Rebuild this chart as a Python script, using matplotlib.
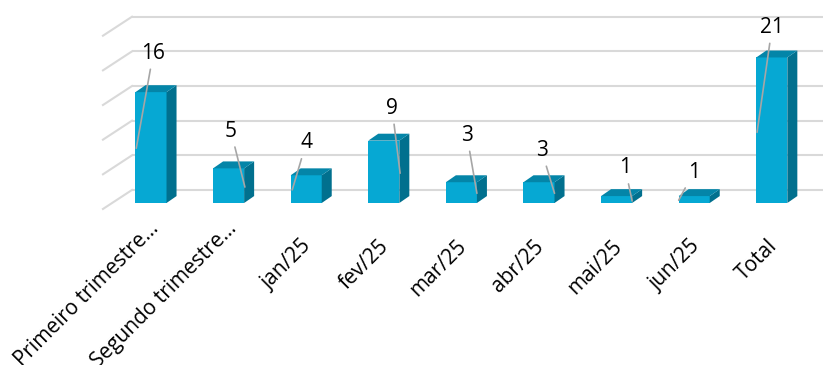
import matplotlib
matplotlib.use("Agg")
import matplotlib.pyplot as plt
from matplotlib.patches import Polygon

# dados do gráfico
categorias = ["Primeiro trimestre…", "Segundo trimestre…", "jan/25", "fev/25",
              "mar/25", "abr/25", "mai/25", "jun/25", "Total"]
valores = [16, 5, 4, 9, 3, 3, 1, 1, 21]
grade = [0, 5, 10, 15, 20, 25]

# posição manual dos rótulos (pixels) e do ponto onde a linha guia toca a barra
rot_dx = [17, -14, 14, -8, -10, -13, -7, 15, 15]
rot_dy = [95, 56, 47, 65, 58, 43, 33, 28, 105]
guia_x = [-0.19, 0.21, -0.18, 0.21, 0.2, 0.2, 0.2, -0.2, -0.19]
guia_v = [7.9, 2.3, 1.9, 4.3, 1.4, 1.4, 0.3, 0.4, 10.2]

# cores estilo Excel 3D
cor_frente = "#06a8d3"
cor_topo = "#0485a8"
cor_lado = "#01708e"
cor_grade = "#d9d9d9"
cor_guia = "#a6a6a6"

plt.rcParams["font.family"] = ["Open Sans", "DejaVu Sans"]

fig = plt.figure(figsize=(8.23, 3.65), dpi=100)
ax = fig.add_axes([0, 0, 1, 1])
ax.set_xlim(-151 / 77.6, (823 - 151) / 77.6)
ax.set_ylim((203 - 365) / 6.93, 203 / 6.93)
ax.axis("off")

largura = 0.4
prof_x, prof_y = 0.129, 1.0       # profundidade da barra
fundo_x, fundo_y = 0.245, 1.88    # deslocamento da parede do fundo
piso_x, piso_y = 0.374, 2.74      # linhas diagonais da parede lateral

# grade na parede do fundo + diagonais
x_fundo = -fundo_x
for g in grade:
    ax.plot([x_fundo, ax.get_xlim()[1]], [g + fundo_y, g + fundo_y],
            color=cor_grade, lw=1.5, zorder=1, solid_capstyle="butt")
    ax.plot([x_fundo, x_fundo - piso_x], [g + fundo_y, g + fundo_y - piso_y],
            color=cor_grade, lw=1.5, zorder=1)

# barras
xs = list(range(len(valores)))
ax.bar(xs, valores, width=largura, color=cor_frente, zorder=3)
for x, v in zip(xs, valores):
    d = x + largura / 2
    e = x - largura / 2
    ax.add_patch(Polygon([(d, 0), (d + prof_x, prof_y), (d + prof_x, v + prof_y), (d, v)],
                         closed=True, facecolor=cor_lado, edgecolor="none", zorder=3))
    ax.add_patch(Polygon([(e, v), (e + prof_x, v + prof_y), (d + prof_x, v + prof_y), (d, v)],
                         closed=True, facecolor=cor_topo, edgecolor="none", zorder=3))

# rótulos de dados com linha guia
for i, v in enumerate(valores):
    ax.annotate(str(v), xy=(xs[i] + guia_x[i], guia_v[i]),
                xytext=(rot_dx[i], rot_dy[i]), textcoords="offset pixels",
                ha="center", va="center", fontsize=15, color="#000000", zorder=5,
                arrowprops=dict(arrowstyle="-", color=cor_guia, lw=1.2,
                                shrinkA=2, shrinkB=0))

# rótulos do eixo x, girados 45 graus
for x, nome in zip(xs, categorias):
    if nome.endswith("…"):
        ax.text(x + 0.116, -3.75, nome, rotation=45, rotation_mode="anchor",
                ha="right", va="baseline", fontsize=15, color="#000000")
    else:
        ax.text(x + 0.077, -6.35, nome, rotation=45, rotation_mode="anchor",
                ha="right", va="baseline", fontsize=15, color="#000000")

fig.savefig("out.png", dpi=100)
